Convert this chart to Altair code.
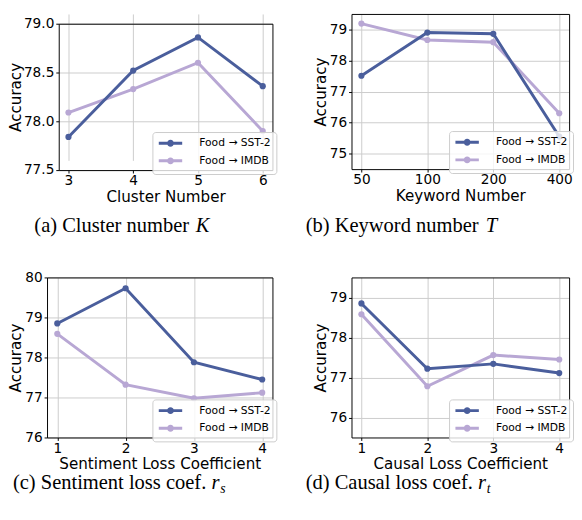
import math
import altair as alt
import pandas as pd

SERIES = ["Food → SST-2", "Food → IMDB"]
COLORS = ["#4a5e9c", "#b8a7d4"]

A_X = ["3", "4", "5", "6"]
A_SST = [77.84, 78.52, 78.86, 78.36]
A_IMDB = [78.09, 78.33, 78.60, 77.90]
A_YTICKS = [77.5, 78.0, 78.5, 79.0]

B_X = ["50", "100", "200", "400"]
B_SST = [77.51, 78.90, 78.86, 75.55]
B_IMDB = [79.19, 78.66, 78.59, 76.30]
B_YTICKS = [75, 76, 77, 78, 79]

C_X = ["1", "2", "3", "4"]
C_SST = [78.85, 79.73, 77.88, 77.45]
C_IMDB = [78.59, 77.32, 76.98, 77.12]
C_YTICKS = [76, 77, 78, 79, 80]

D_X = ["1", "2", "3", "4"]
D_SST = [78.85, 77.22, 77.34, 77.11]
D_IMDB = [78.58, 76.78, 77.56, 77.45]
D_YTICKS = [76, 77, 78, 79]

# legend glyph: short thick line with a dot (line + marker), drawn as a stroke
_circ = "".join(
    ("M" if i == 0 else "L") + "%.3f,%.3f" % (0.4 * math.cos(2 * math.pi * i / 16),
                                             0.4 * math.sin(2 * math.pi * i / 16))
    for i in range(16)) + "Z"
SYMBOL = "M-2.4,0L2.4,0" + _circ

CAP_F = 21
SERIF = "Liberation Serif"


def caption(parts, y):
    layers = []
    one = pd.DataFrame({"k": [0]})
    for text, x, italic, size, dy in parts:
        kw = dict(align="left", baseline="alphabetic", font=SERIF, fontSize=size,
                  color="black", text=text)
        if italic:
            kw["fontStyle"] = "italic"
        layers.append(alt.Chart(one).mark_text(**kw).encode(
            x=alt.value(x), y=alt.value(y + dy)))
    return layers


def panel(xs, sst, imdb, xtitle, ydom, yticks, yfmt, w, h, caps, cap_y,
          xr=None, yr=None, yoff=0, toff=0, tpad=1):
    df = pd.DataFrame({
        "x": xs + xs,
        "acc": imdb + sst,
        "series": [SERIES[1]] * len(xs) + [SERIES[0]] * len(xs),
    })
    xs_kw = dict(type="point", padding=0.15)
    if xr is not None:
        xs_kw["range"] = xr
    ys_kw = dict(domain=ydom, nice=False, zero=False)
    if yr is not None:
        ys_kw["range"] = yr
    xscale = alt.Scale(**xs_kw)
    yscale = alt.Scale(**ys_kw)

    x_main = alt.X("x:O", sort=xs, scale=xscale,
                   axis=alt.Axis(title=xtitle, grid=True, labelAngle=0, orient="bottom"))
    y_main = alt.Y("acc:Q", scale=yscale,
                   axis=alt.Axis(title="Accuracy", values=yticks, format=yfmt, orient="left",
                                 grid=True, offset=yoff, titlePadding=tpad))
    x_plain = alt.X("x:O", sort=xs, scale=xscale, axis=None)
    y_plain = alt.Y("acc:Q", scale=yscale, axis=None)
    cscale = alt.Scale(domain=SERIES, range=COLORS)
    legend = alt.Legend(
        title=None, orient="bottom-right", offset=-4,
        symbolType=SYMBOL, symbolSize=100, symbolStrokeWidth=3,
        symbolOffset=7, labelOffset=23, symbolOpacity=1,
        labelFont="DejaVu Sans", labelFontSize=11, labelColor="black",
        rowPadding=1, padding=5, fillColor="rgba(255,255,255,0.8)",
        strokeColor="#cccccc", cornerRadius=3,
    )
    lines = alt.Chart(df).mark_line(strokeWidth=3).encode(
        x=x_main, y=y_main,
        color=alt.Color("series:N", scale=cscale, legend=legend),
    )
    points = alt.Chart(df).mark_point(filled=True, size=40, opacity=1).encode(
        x=x_plain, y=y_plain,
        color=alt.Color("series:N", scale=cscale),
    )
    frame = alt.Chart(df).mark_point(opacity=0).encode(
        x=alt.X("x:O", sort=xs, scale=xscale,
                axis=alt.Axis(orient="top", labels=False, ticks=False, grid=False,
                              title=None, domain=True, offset=toff)),
        y=alt.Y("acc:Q", scale=yscale,
                axis=alt.Axis(orient="right", labels=False, ticks=False, grid=False,
                              title=None, domain=True)),
    )
    return alt.layer(lines, points, frame, *caption(caps, cap_y)).properties(
        width=w, height=h)


# caption pieces: (text, x, italic, size, dy)
pa = panel(A_X, A_SST, A_IMDB, "Cluster Number", [77.5, 79.0], A_YTICKS, ".1f",
           231, 160,
           [("(a) Cluster number", -13, False, CAP_F, 0),
            ("K", 152.5, True, CAP_F, 0)], 223,
           xr=[12, 231], yr=[160, 10], yoff=-12, toff=-10, tpad=0)
pb = panel(B_X, B_SST, B_IMDB, "Keyword Number", [74.5, 79.5], B_YTICKS, "d",
           223, 159,
           [("(b) Keyword number", -47, False, CAP_F, 0),
            ("T", 137.5, True, CAP_F, 0)], 223)
pc = panel(C_X, C_SST, C_IMDB, "Sentiment Loss Coefficient", [76, 80], C_YTICKS, "d",
           231, 164,
           [("(c) Sentiment loss coef.", -35, False, CAP_F, 0),
            ("r", 168.5, True, CAP_F, 0),
            ("s", 177.5, True, 14, 4)], 217)
pd_ = panel(D_X, D_SST, D_IMDB, "Causal Loss Coefficient", [75.5, 79.5], D_YTICKS, "d",
            223, 164,
            [("(d) Causal loss coef.", -47, False, CAP_F, 0),
             ("r", 129.5, True, CAP_F, 0),
             ("t", 138.5, True, 14, 4)], 217)

row1 = alt.hconcat(pa, pb, spacing=29).resolve_scale(color="independent").resolve_legend(
    color="independent")
row2 = alt.hconcat(pc, pd_, spacing=29).resolve_scale(color="independent").resolve_legend(
    color="independent")

chart = alt.vconcat(row1, row2, spacing=36).resolve_scale(
    color="independent").resolve_legend(color="independent").properties(
    padding=0
).configure_view(stroke=None).configure_axis(
    labelFont="DejaVu Sans", labelFontSize=14, labelColor="black",
    titleFont="DejaVu Sans", titleFontSize=15.5, titleFontWeight="normal",
    titleColor="black", tickColor="black", tickSize=3, labelPadding=2,
    domainColor="black", domainWidth=1, gridColor="#cccccc", gridWidth=1,
).configure_axisX(titlePadding=2, labelPadding=1)

chart.save("out.html", embed_options={"renderer": "svg", "actions": False})
